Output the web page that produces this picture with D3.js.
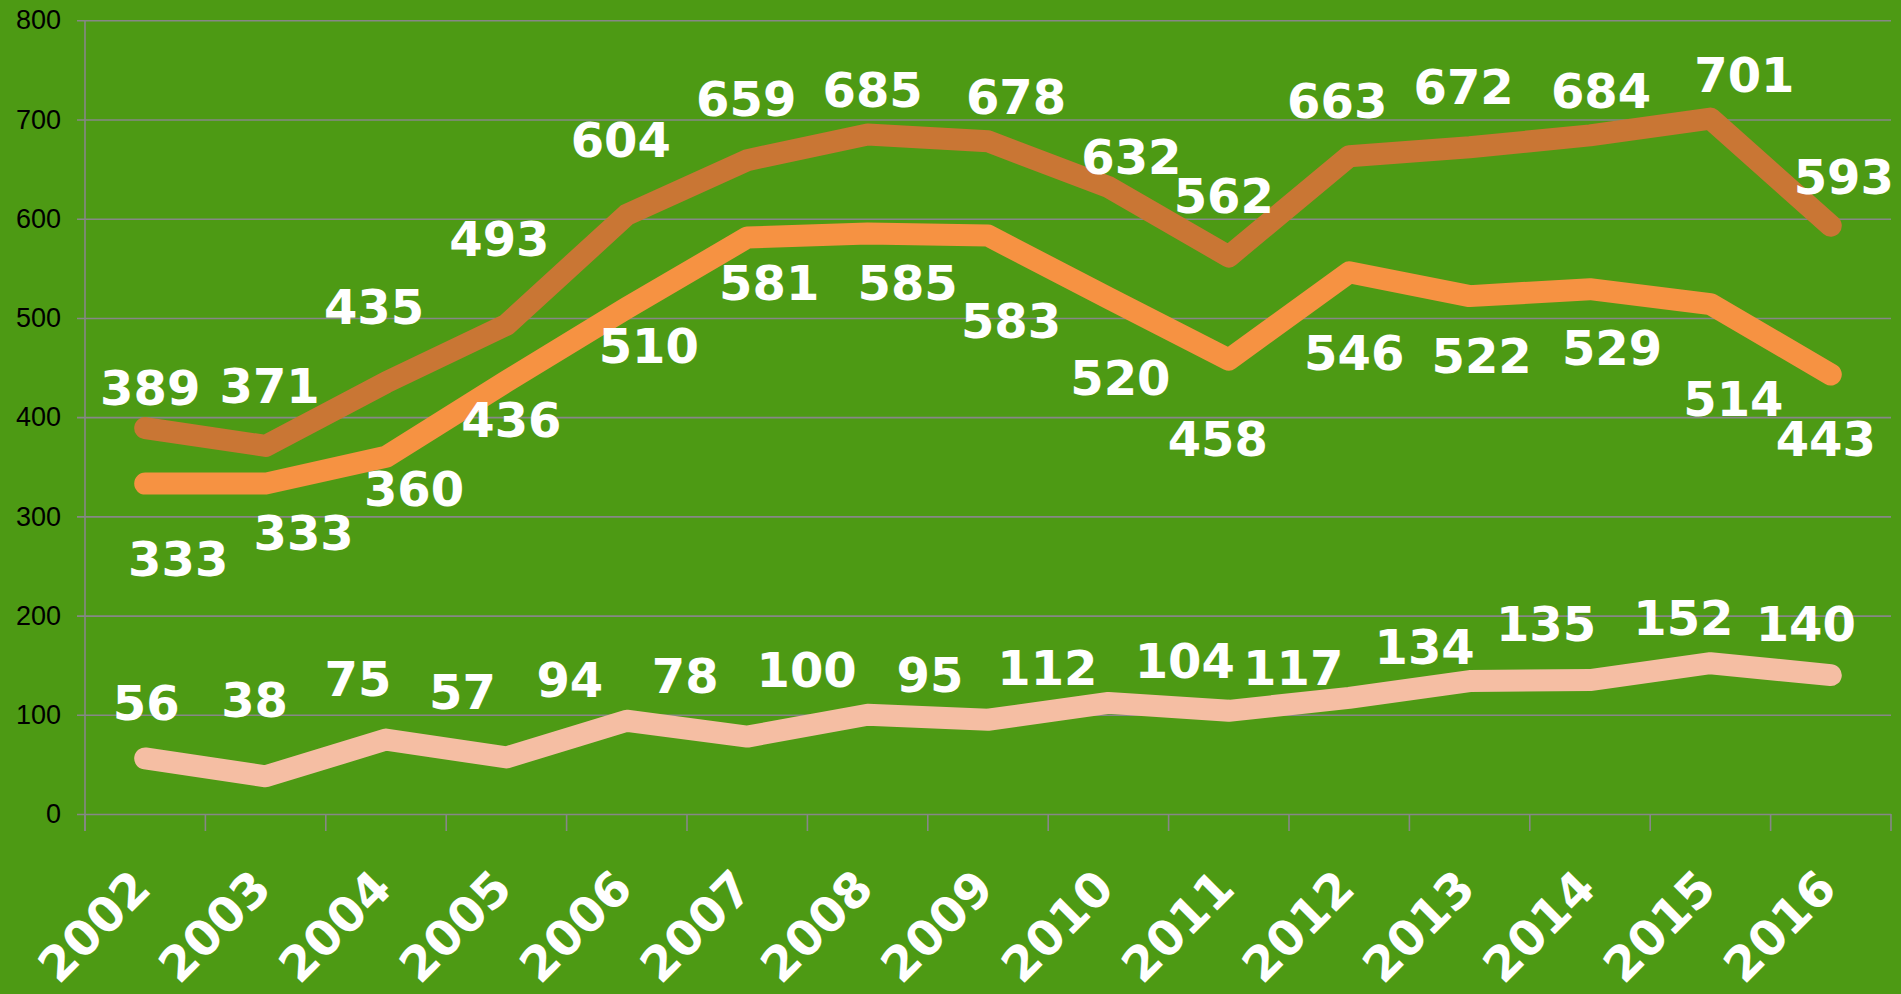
<!DOCTYPE html>
<html>
<head>
<meta charset="utf-8">
<script src="https://cdn.jsdelivr.net/npm/d3@7"></script>
<style>
  html, body { margin: 0; padding: 0; background: #4d9a14; overflow: hidden; }
  svg { display: block; }
  .ylab { font-family: "Liberation Sans", Arial, sans-serif; font-size: 27px; fill: #000; }
  .dlab { font-family: "DejaVu Sans", Verdana, sans-serif; font-weight: bold; font-size: 48px; fill: #fff; }
  .xlab { font-family: "DejaVu Sans", Verdana, sans-serif; font-weight: bold; font-size: 48px; fill: #fff; }
</style>
</head>
<body>
<div id="chart"></div>
<script>
const years = ["2002", "2003", "2004", "2005", "2006", "2007", "2008", "2009", "2010", "2011", "2012", "2013", "2014", "2015", "2016"]
const topSeries = [389, 371, 435, 493, 604, 659, 685, 678, 632, 562, 663, 672, 684, 701, 593]
const midSeries = [333, 333, 360, 436, 510, 581, 585, 583, 520, 458, 546, 522, 529, 514, 443]
const lowSeries = [56, 38, 75, 57, 94, 78, 100, 95, 112, 104, 117, 134, 135, 152, 140]
const yTicks = [0, 100, 200, 300, 400, 500, 600, 700, 800]

// label nudges (px) relative to each point, the way they sit in the original
const topLabelOffsets = [[5, -40], [4, -60], [-12, -76], [-7, -86], [-6, -75], [-1, -61], [5, -45], [28, -45], [23, -30], [-5, -61], [-12, -56], [-6, -61], [11, -45], [34, -44], [13, -49]]
const midLabelOffsets = [[33, 75], [38, 49], [28, 32], [5, 38], [22, 38], [22, 45], [40, 49], [23, 85], [12, 80], [-11, 79], [5, 80], [12, 60], [22, 59], [23, 95], [-5, 64]]
const lowLabelOffsets = [[1, -56], [-11, -77], [-28, -61], [-44, -66], [-57, -41], [-62, -61], [-61, -45], [-58, -45], [-61, -35], [-44, -50], [-56, -30], [-45, -34], [-44, -56], [-27, -45], [-25, -51]]

const width = 1901, height = 994
const plot = { left: 85, right: 1891, top: 20.3, bottom: 814 }
const gridColor = "#878787"

const svg = d3.select("#chart").append("svg")
  .attr("width", width)
  .attr("height", height)

svg.append("rect").attr("width", width).attr("height", height).attr("fill", "#4d9a14")

const x = d3.scaleBand().domain(years).range([plot.left, plot.right]).padding(0)
const y = d3.scaleLinear().domain([0, 800]).range([plot.bottom, plot.top])
const cx = d => x(d) + x.bandwidth() / 2

// horizontal gridlines + y labels
const yAxis = svg.append("g")
  .attr("transform", `translate(${plot.right},0)`)
  .call(d3.axisLeft(y).tickValues(yTicks).tickSize(plot.right - 77).tickPadding(16).tickFormat(d3.format("d")))
yAxis.select(".domain").remove()
yAxis.selectAll(".tick line").attr("stroke", gridColor).attr("stroke-width", 1.6)
yAxis.selectAll(".tick text").attr("class", "ylab").attr("fill", null).attr("font-size", null).attr("font-family", null)

// vertical axis line
svg.append("line")
  .attr("x1", plot.left).attr("x2", plot.left)
  .attr("y1", y(800)).attr("y2", plot.bottom + 17)
  .attr("stroke", gridColor).attr("stroke-width", 1.6)

// x axis tick marks at band edges
const edges = years.map(d => x(d)).concat([plot.right])
svg.append("g").selectAll("line").data(edges).join("line")
  .attr("x1", d => d).attr("x2", d => d)
  .attr("y1", plot.bottom).attr("y2", plot.bottom + 17)
  .attr("stroke", gridColor).attr("stroke-width", 1.6)

// x labels
svg.append("g").selectAll("text").data(years).join("text")
  .attr("class", "xlab")
  .attr("text-anchor", "end")
  .attr("transform", d => `translate(${cx(d) + 8},891) rotate(-45)`)
  .text(d => d)

const line = d3.line().x((d, i) => cx(years[i])).y(d => y(d))

const series = [
  { values: topSeries, color: "#c97634", offsets: topLabelOffsets },
  { values: midSeries, color: "#f69242", offsets: midLabelOffsets },
  { values: lowSeries, color: "#f5bea3", offsets: lowLabelOffsets }
]

series.forEach(s => {
  svg.append("path")
    .datum(s.values)
    .attr("fill", "none")
    .attr("stroke", s.color)
    .attr("stroke-width", 22)
    .attr("stroke-linecap", "round")
    .attr("stroke-linejoin", "round")
    .attr("d", line)
})

series.forEach(s => {
  svg.append("g").selectAll("text").data(s.values).join("text")
    .attr("class", "dlab")
    .attr("text-anchor", "middle")
    .attr("x", (d, i) => cx(years[i]) + s.offsets[i][0])
    .attr("y", (d, i) => y(d) + s.offsets[i][1])
    .attr("dy", "0.36em")
    .text(d => d)
})
</script>
</body>
</html>
